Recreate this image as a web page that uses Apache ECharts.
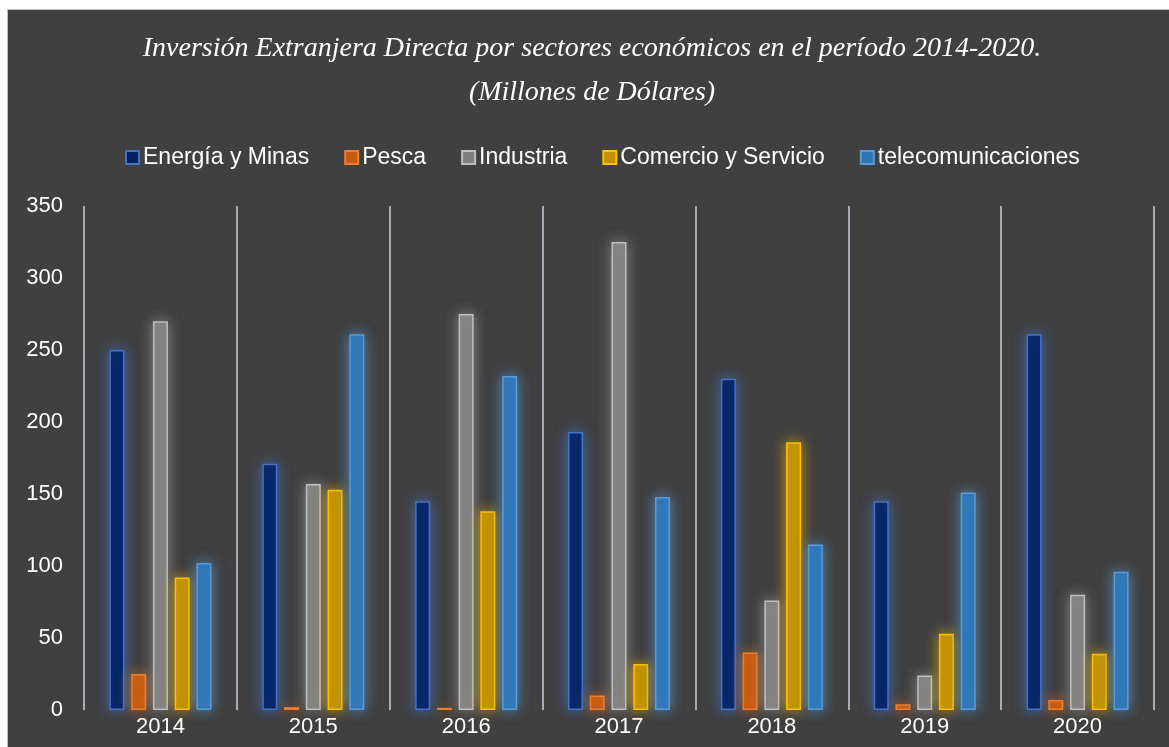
<!DOCTYPE html>
<html>
<head>
<meta charset="utf-8">
<script src="https://cdn.jsdelivr.net/npm/echarts@6/dist/echarts.min.js"></script>
<style>
  html, body { margin: 0; padding: 0; background: #fff; overflow: hidden; width: 1169px; height: 747px; }
  #frame { position: absolute; left: 7px; top: 9px; width: 1168px; height: 745px; background: #404040; border: 1px solid #bfbfbf; }
  #chart { width: 1168px; height: 745px; }
</style>
</head>
<body>
<div id="frame"><div id="chart"></div></div>
<script>
const years = ['2014', '2015', '2016', '2017', '2018', '2019', '2020']
const sectors = ['Energía y Minas', 'Pesca', 'Industria', 'Comercio y Servicio', 'telecomunicaciones']

const energia = [250, 171, 145, 193, 230, 145, 261]
const pesca = [25, 2, 1.5, 10, 40, 4, 7]
const industria = [270, 157, 275, 325, 76, 24, 80]
const comercio = [92, 153, 138, 32, 186, 53, 39]
const telecom = [102, 261, 232, 148, 115, 151, 96]

const yTicks = { min: 0, max: 350, interval: 50 }

const fills = ['#002060', '#c55a11', '#7f7f7f', '#bf9000', '#2e75b6']
const borders = ['#4472c4', '#ed7d31', '#bfbfbf', '#ffc000', '#5b9bd5']
const glows = ['rgba(68,114,196,0.85)', 'rgba(237,125,49,0.7)', 'rgba(191,191,191,0.55)', 'rgba(255,192,0,0.7)', 'rgba(91,155,213,0.8)']

const values = [energia, pesca, industria, comercio, telecom]

const chart = echarts.init(document.getElementById('chart'))

chart.setOption({
  backgroundColor: '#404040',
  animation: false,
  title: {
    text: 'Inversión Extranjera Directa por sectores económicos en el período 2014-2020.\n(Millones de Dólares)',
    left: 'center',
    top: 12,
    textStyle: {
      color: '#ffffff',
      fontFamily: 'Liberation Serif',
      fontStyle: 'italic',
      fontWeight: 'normal',
      fontSize: 28,
      lineHeight: 44,
    },
  },
  legend: {
    top: 131,
    left: 112,
    itemWidth: 13,
    itemHeight: 13,
    itemGap: 35,
    icon: 'rect',
    textStyle: { color: '#ffffff', fontFamily: 'Liberation Sans', fontSize: 23, padding: [0, 0, 0, -1] },
    data: sectors,
  },
  grid: { left: 76, right: 22, top: 196, bottom: 45, containLabel: false },
  xAxis: {
    type: 'category',
    data: years,
    axisLine: { show: false },
    axisTick: { show: false },
    splitLine: { show: true, lineStyle: { color: '#c9d2e2', width: 1.5 } },
    axisLabel: { color: '#ffffff', fontFamily: 'Liberation Sans', fontSize: 22, margin: 6 },
  },
  yAxis: {
    type: 'value',
    min: yTicks.min,
    max: yTicks.max,
    interval: yTicks.interval,
    axisLine: { show: false },
    axisTick: { show: false },
    splitLine: { show: false },
    axisLabel: { color: '#ffffff', fontFamily: 'Liberation Sans', fontSize: 22, margin: 21 },
  },
  series: sectors.map((name, i) => ({
    name,
    type: 'bar',
    data: values[i],
    barWidth: 15,
    barGap: '45%',
    itemStyle: {
      color: fills[i],
      borderColor: borders[i],
      borderWidth: 1.5,
      shadowBlur: 14,
      shadowColor: glows[i],
    },
  })),
})
</script>
</body>
</html>
